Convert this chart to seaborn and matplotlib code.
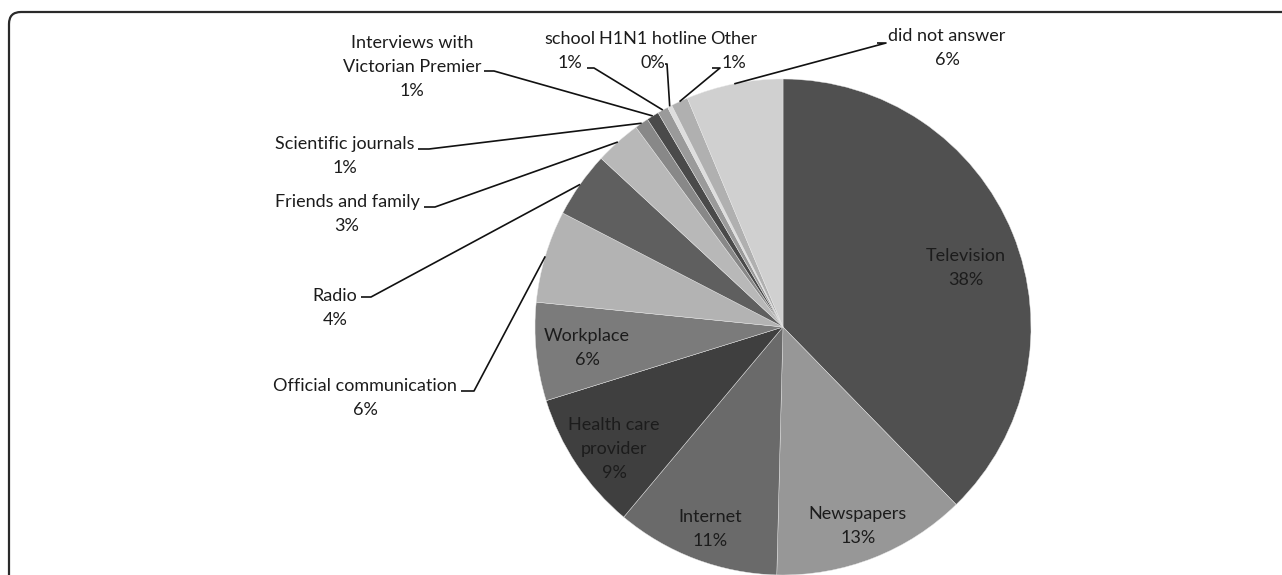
import matplotlib
matplotlib.use("Agg")
import matplotlib.pyplot as plt
from matplotlib.patches import FancyBboxPatch
import numpy as np
import seaborn as sns

# Sources of H1N1 information (share of respondents, %)
sources = [
    "Television", "Newspapers", "Internet", "Health care provider", "Workplace",
    "Official communication", "Radio", "Friends and family", "Scientific journals",
    "Interviews with Victorian Premier", "school", "H1N1 hotline", "Other",
    "did not answer",
]
shares = [37.7, 12.7, 10.7, 9.1, 6.4, 6.0, 4.3, 3.0, 0.9, 0.8, 0.7, 0.3, 1.1, 6.3]
slice_greys = [
    "#505050", "#979797", "#6a6a6a", "#3f3f3f", "#7b7b7b", "#b3b3b3", "#5f5f5f",
    "#b8b8b8", "#888888", "#4a4a4a", "#9a9a9a", "#dedede", "#b0b0b0", "#d0d0d0",
]

sns.set_theme(style="white")
plt.rcParams["font.family"] = ["Lato", "DejaVu Sans"]

W, H = 1282, 575
fig = plt.figure(figsize=(W / 100, H / 100), dpi=100)
ax = fig.add_axes([0, 0, 1, 1])


def px(x, y):
    """Pixel position measured from the top-left corner -> axes data coordinates."""
    return x, H - y


cx, cy = px(783, 327)
radius = 248
palette = sns.color_palette(slice_greys)
wedges, _ = ax.pie(shares, colors=palette, startangle=90, counterclock=False,
                   center=(cx, cy), radius=radius, frame=True,
                   wedgeprops=dict(edgecolor="#e8e8e8", linewidth=0.3))
ax.set_xlim(0, W)
ax.set_ylim(0, H)
ax.set_aspect("equal")
ax.axis("off")

# rounded frame around the panel (open to the right and bottom)
frame = FancyBboxPatch((9, -200), W + 300, H + 200 - 12,
                       boxstyle="round,pad=0,rounding_size=12",
                       facecolor="none", edgecolor="#2a2a2a", linewidth=1.6,
                       transform=ax.transData, clip_on=True)
ax.add_patch(frame)

TXT = "#1c1c1c"
FS = 13.0
LINE = 24


def pct(v):
    return f"{int(round(v))}%"


def draw_lines(lines, x, y0):
    for i, s in enumerate(lines):
        ax.text(*px(x, y0 + i * LINE), s, ha="center", va="center",
                fontsize=FS, color=TXT)


# labels drawn inside the larger slices: (text lines, centre x, first-line y)
inside = {
    "Television": (["Television"], 966, 256),
    "Newspapers": (["Newspapers"], 858, 514),
    "Internet": (["Internet"], 710, 517),
    "Health care provider": (["Health care", "provider"], 614, 425),
    "Workplace": (["Workplace"], 587, 336),
}
# labels outside with leader lines: (text lines, centre x, first-line y, elbow start, elbow end)
outside = {
    "Official communication": (["Official communication"], 365, 386, (461, 391), (474, 391)),
    "Radio": (["Radio"], 335, 296, (361, 297), (371, 297)),
    "Friends and family": (["Friends and family"], 347, 202, (424, 207), (435, 207)),
    "Scientific journals": (["Scientific journals"], 345, 144, (418, 149), (429, 149)),
    "Interviews with Victorian Premier": (["Interviews with", "Victorian Premier"], 412, 43, (484, 71), (494, 71)),
    "school": (["school"], 570, 39, (587, 68), (594, 68)),
    "H1N1 hotline": (["H1N1 hotline"], 653, 39, (665, 64), (667, 64)),
    "Other": (["Other"], 734, 39, (712, 68), (720, 68)),
    "did not answer": (["did not answer"], 947, 36, (877, 43), (886, 43)),
}

for name, value, w in zip(sources, shares, wedges):
    if name in inside:
        lines, x, y0 = inside[name]
        draw_lines(lines + [pct(value)], x, y0)
    else:
        lines, x, y0, e1, e2 = outside[name]
        draw_lines(lines + [pct(value)], x, y0)
        mid = np.deg2rad((w.theta1 + w.theta2) / 2)
        tip = (cx + radius * np.cos(mid), cy + radius * np.sin(mid))
        xs = [e1[0], e2[0], tip[0]]
        ys = [H - e1[1], H - e2[1], tip[1]]
        ax.plot(xs, ys, color="#111111", linewidth=1.2, solid_capstyle="butt")

fig.savefig("out.png", dpi=100, facecolor="white")
